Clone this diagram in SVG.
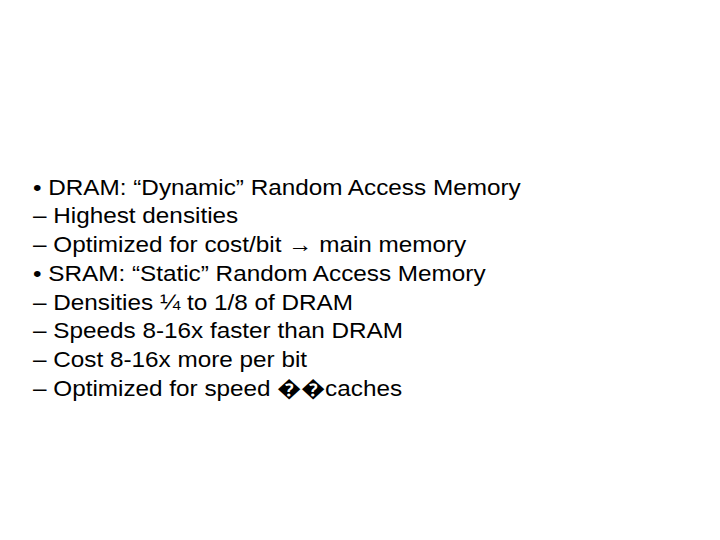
<svg xmlns="http://www.w3.org/2000/svg" width="720" height="540" viewBox="0 0 720 540"><style>text{font-family:"Liberation Sans",Arial,sans-serif;font-size:22.5px;fill:#000}</style><rect width="720" height="540" fill="#fff"/><g transform="translate(33,0) scale(1.08,1)"><text x="0" y="195">• DRAM: “Dynamic” Random Access Memory</text><text x="0" y="223">– Highest densities</text><text x="0" y="252">– Optimized for cost/bit  → main memory</text><text x="0" y="281">• SRAM: “Static” Random Access Memory</text><text x="0" y="310">– Densities ¼ to 1/8 of DRAM</text><text x="0" y="338">– Speeds 8-16x faster than DRAM</text><text x="0" y="367">– Cost 8-16x more per bit</text><text x="0" y="396">– Optimized for speed ��caches</text></g></svg>
